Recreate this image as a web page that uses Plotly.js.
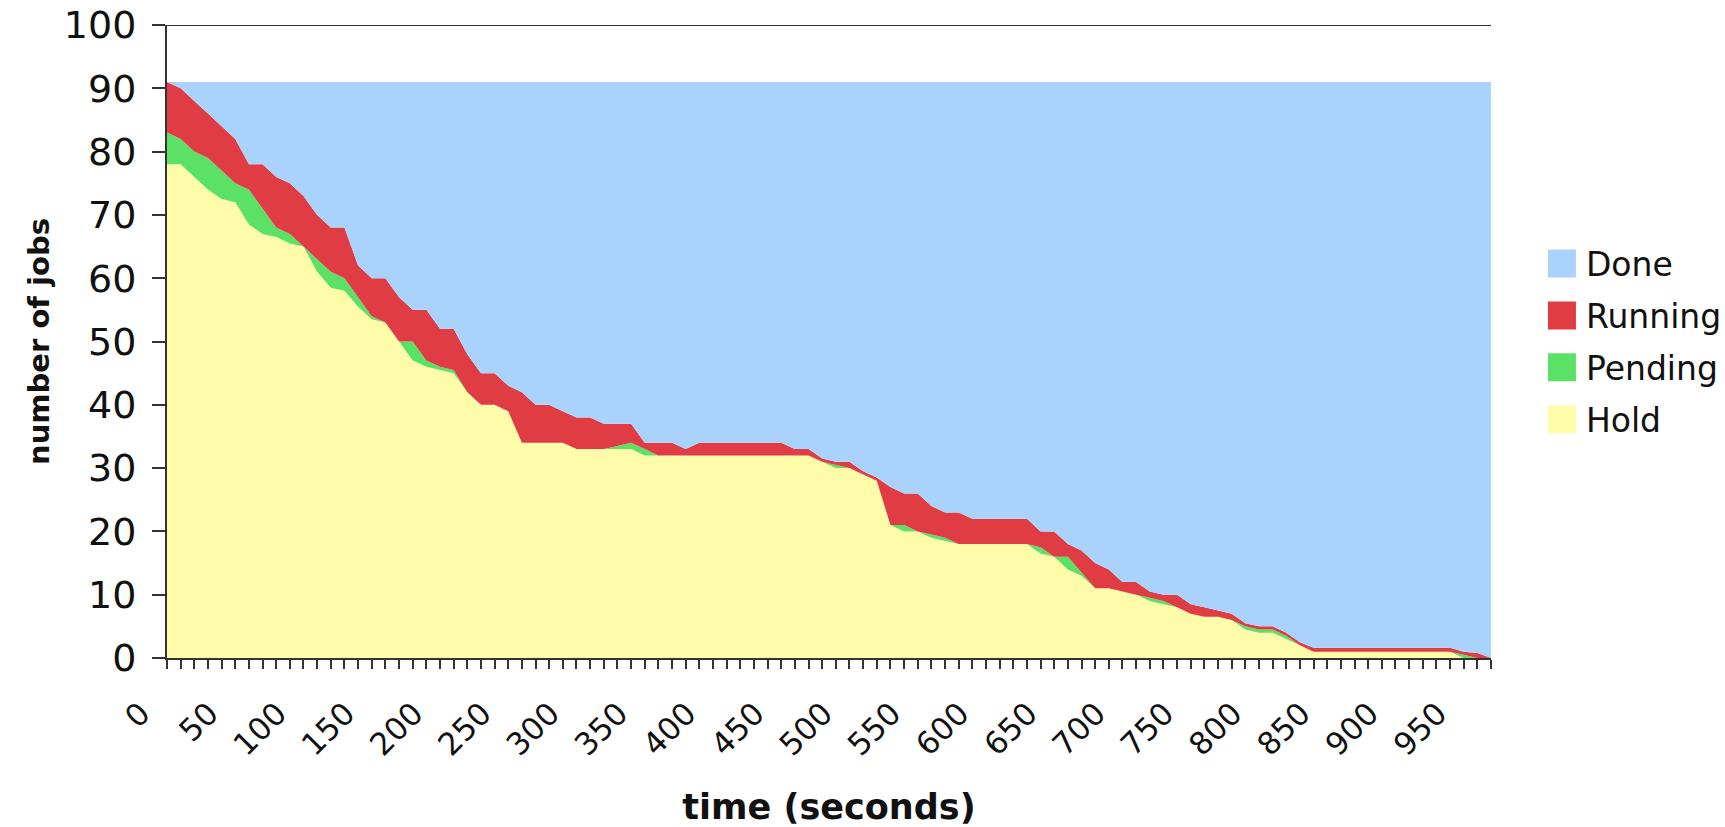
<!DOCTYPE html>
<html>
<head>
<meta charset="utf-8">
<script src="https://cdn.plot.ly/plotly-3.0.1.min.js"></script>
<style>html,body{margin:0;padding:0;background:#fff;}#chart{width:1725px;height:827px;}</style>
</head>
<body>
<div id="chart"></div>
<script>
// time in seconds (categories)
const times = [0,10,20,30,40,50,60,70,80,90,100,110,120,130,140,150,160,170,180,190,200,210,220,230,240,250,260,270,280,290,300,310,320,330,340,350,360,370,380,390,400,410,420,430,440,450,460,470,480,490,500,510,520,530,540,550,560,570,580,590,600,610,620,630,640,650,660,670,680,690,700,710,720,730,740,750,760,770,780,790,800,810,820,830,840,850,860,870,880,890,900,910,920,930,940,950,960,970];

const hold = [78,78,76,74,72.5,72,68.5,67,66.5,65.5,65,61,58.5,58,55.5,53.5,53,50,47,46,45.5,45,42,40,40,39,34,34,34,34,33,33,33,33,33,32,32,32,32,32,32,32,32,32,32,32,32,32,31,30,30,29,28,21,20,20,19,18.5,18,18,18,18,18,18,16.5,16,14,13,11,11,10.5,10,9,8.5,8,7,6.5,6.5,6,4.5,4,4,3,2,1,1,1,1,1,1,1,1,1,1,1,0,0,0];

const pending = [5,4,4,5,4.5,3,5.5,4,1.5,1.5,0,2,2.5,2,1.5,0.5,0,0,3,1,0.5,0.5,0,0,0,0,0,0,0,0,0,0,0,0.5,1,1,0,0,0,0,0,0,0,0,0,0,0,0,0,0.5,0,0,0,0,1,0,0.5,0.5,0,0,0,0,0,0,1,0,2,0.5,0,0,0,0,0.5,0.5,0,0,0,0,0,0.5,0.5,0.5,0.5,0,0,0,0,0,0,0,0,0,0,0,0,0.5,0,0];

const running = [8,8,8,7,7,7,4,7,8,8,8,7,7,8,5,6,7,7,5,8,6,6.5,6,5,5,4,8,6,6,5,5,5,4,3.5,3,1,2,2,1,2,2,2,2,2,2,2,1,1,0.5,0.5,1,0.5,0.5,6,5,6,4.5,4,5,4,4,4,4,4,2.5,4,2,3.5,4,3,1.5,2,1,1,2,1.5,1.5,1,1,0.5,0.5,0.5,0.5,0.5,0.6,0.6,0.6,0.6,0.6,0.6,0.6,0.6,0.6,0.6,0.6,0.5,0.8,0];

const done = [0,1,3,5,7,9,13,13,15,16,18,21,23,23,29,31,31,34,36,36,39,39,43,46,46,48,49,51,51,52,53,53,54,54,54,57,57,57,58,57,57,57,57,57,57,57,58,58,59.5,60,60,61.5,62.5,64,65,65,67,68,68,69,69,69,69,69,71,71,73,74,76,77,79,79,80.5,81,81,82.5,83,83.5,84,85.5,86,86,87,88.5,89.4,89.4,89.4,89.4,89.4,89.4,89.4,89.4,89.4,89.4,89.4,90,90.2,91];

const seriesNames = ['Hold','Pending','Running','Done'];
const seriesColors = ['#fefca8','#5be266','#e03c43','#a9d3fd'];
const legendRanks = [4, 3, 2, 1];
const seriesValues = [hold, pending, running, done];

const FONT = 'DejaVu Sans, Verdana, sans-serif';

const traces = seriesNames.map((name, k) => ({
  type: 'scatter',
  x: times,
  y: seriesValues[k],
  name: name,
  legendgroup: 'g' + k,
  legendrank: legendRanks[k],
  stackgroup: 'jobs',
  mode: 'none',
  fillcolor: seriesColors[k],
  line: {width: 0, shape: 'linear'},
  hoverinfo: 'x+y+name'
}));

const layout = {
  width: 1725,
  height: 827,
  margin: {l: 167, r: 234, t: 25, b: 169},
  paper_bgcolor: '#ffffff',
  plot_bgcolor: '#ffffff',
  font: {family: FONT, color: '#111', size: 31},
  showlegend: true,
  legend: {
    traceorder: 'grouped',
    xref: 'container', yref: 'container',
    x: 0.8962, xanchor: 'left',
    y: 0.587, yanchor: 'middle',
    font: {family: FONT, size: 33, color: '#111'},
    bgcolor: 'rgba(0,0,0,0)',
    borderwidth: 0,
    tracegroupgap: 6
  },
  xaxis: {
    range: [0, 970],
    tickmode: 'linear', tick0: 0, dtick: 50,
    ticks: 'outside', ticklen: 9, tickwidth: 2, tickcolor: '#333',
    showline: true, linewidth: 2, linecolor: '#333',
    showgrid: false, zeroline: false,
    tickangle: -45,
    tickfont: {family: FONT, size: 31, color: '#111'},
    ticklabelstandoff: 14,
    ticklabelshift: -26,
    minor: {dtick: 10, tick0: 0, ticks: 'outside', ticklen: 9, tickwidth: 2, tickcolor: '#333', showgrid: false},
    title: {text: 'time (seconds)', font: {family: FONT, size: 35, color: '#111', weight: 'bold'}, standoff: 40},
    automargin: false
  },
  yaxis: {
    range: [0, 100],
    tickmode: 'linear', tick0: 0, dtick: 10,
    ticks: 'outside', ticklen: 13, tickwidth: 2, tickcolor: '#333',
    showline: true, linewidth: 2, linecolor: '#333',
    showgrid: false, zeroline: false,
    tickfont: {family: FONT, size: 38, color: '#111'},
    ticklabelstandoff: 8,
    title: {text: 'number of jobs', font: {family: FONT, size: 29, color: '#111', weight: 'bold'}, standoff: 6},
    automargin: false
  },
  yaxis2: {
    overlaying: 'y', side: 'right', anchor: 'x',
    range: [0, 100], tickmode: 'linear', tick0: 0, dtick: 10,
    ticks: 'outside', ticklen: 3, tickwidth: 2, tickcolor: '#555',
    showticklabels: false, showgrid: false, zeroline: false, showline: false
  },
  shapes: [
    {type: 'line', xref: 'paper', yref: 'y', x0: 0, x1: 1, y0: 100, y1: 100,
     line: {color: '#333', width: 2}}
  ]
};

Plotly.newPlot('chart', traces, layout, {displayModeBar: false, staticPlot: true}).then(gd => {
  // draw legend keys as squares, like the original chart
  gd.querySelectorAll('.legend .traces').forEach(g => {
    g.querySelectorAll('.legendfill path').forEach(p => p.setAttribute('d', 'M2,-14h28v28h-28z'));
  });
});
</script>
</body>
</html>
